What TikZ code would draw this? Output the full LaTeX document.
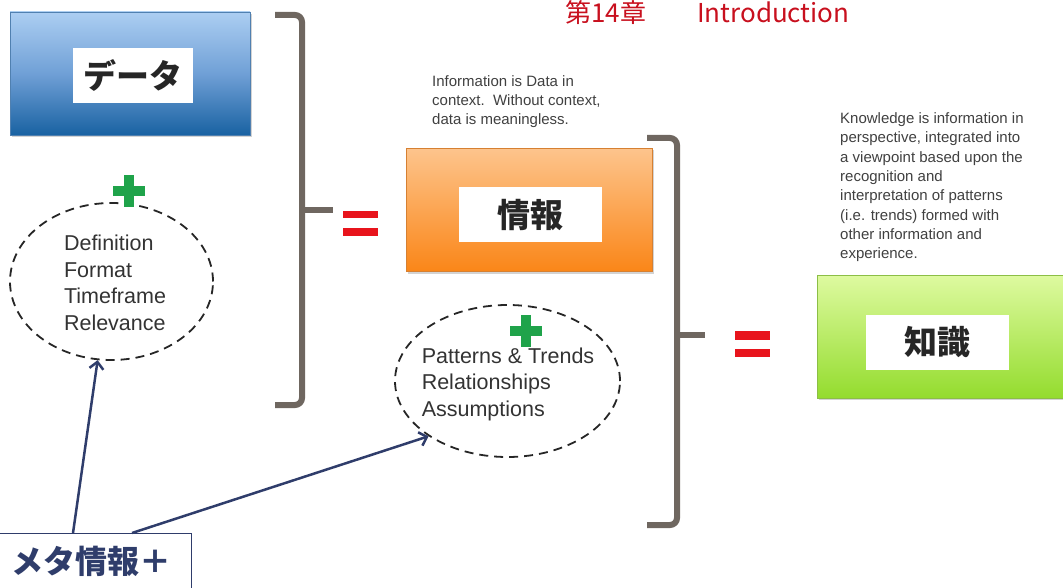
\documentclass[tikz,border=0pt]{standalone}
\usepackage{fontspec}
\setmainfont{Liberation Sans}
\newfontfamily\jpfont{Noto Sans CJK JP}
\usetikzlibrary{shapes.geometric,arrows.meta,shadows}

\definecolor{brk}{HTML}{6F6760}
\definecolor{eqred}{HTML}{E8141C}
\definecolor{plusgreen}{HTML}{1FA34A}
\definecolor{navy}{HTML}{2F3D6B}
\definecolor{titlered}{HTML}{C8101E}

\tikzset{
  box/.style={rectangle, minimum width=246pt, minimum height=123pt, inner sep=0pt,
    drop shadow={opacity=0.35, shadow xshift=1.5pt, shadow yshift=-2pt}},
  lbl/.style={fill=white, minimum width=143pt, minimum height=55pt, inner sep=0pt,
    text=black!85, font=\jpfont\bfseries\fontsize{33}{33}\selectfont},
  dashring/.style={ellipse, draw=black!85, line width=1.8pt, dash pattern=on 9pt off 6pt, inner sep=0pt},
  ringtext/.style={align=left, inner sep=0pt, text=black!80, font=\fontsize{21.5}{26.5}\selectfont},
  remark/.style={align=left, inner sep=0pt, anchor=north west, text=black!75,
    font=\fontsize{15}{19.3}\selectfont},
  bracket/.style={brk, line width=6pt, rounded corners=7pt},
  link/.style={navy, line width=2.5pt, -{Straight Barb[length=7pt,width=14pt]}}
}

\begin{document}
\begin{tikzpicture}[x=1pt,y=-1pt]
  \useasboundingbox (0,0) rectangle (1063,588);

  % title line
  \node[anchor=base west, inner sep=0pt, text=titlered, font=\jpfont\fontsize{26}{26}\selectfont] (titlech) at (565,23) {第14章};
  \node[anchor=base west, inner sep=0pt, text=titlered, font=\jpfont\fontsize{26}{26}\selectfont] (titleen) at (697,23) {Introduction};

  % the three boxes
  \node[box, minimum width=240pt, top color={rgb,255:red,172;green,206;blue,242}, bottom color={rgb,255:red,25;green,98;blue,162},
        middle color={rgb,255:red,112;green,160;blue,214}, draw={rgb,255:red,80;green,128;blue,176}, line width=0.6pt] (data) at (130,73.5) {};
  \node[lbl, minimum width=120pt] (datalbl) at (133,75.5) {データ};

  \node[box, top color={rgb,255:red,253;green,196;blue,140}, bottom color={rgb,255:red,250;green,134;blue,24},
        draw={rgb,255:red,214;green,128;blue,50}, line width=0.6pt] (info) at (529.5,210) {};
  \node[lbl] (infolbl) at (530.5,214.5) {情報};

  \node[box, top color={rgb,255:red,222;green,250;blue,160}, bottom color={rgb,255:red,148;green,220;blue,46},
        draw={rgb,255:red,140;green,190;blue,70}, line width=0.6pt] (know) at (940,336.5) {};
  \node[lbl] (knowlbl) at (937.5,342.5) {知識};

  % notes
  \node[remark] (infotext) at (432,75) {Information is Data in\\context.\ \ Without context,\\data is meaningless.};
  \node[remark] (knowtext) at (840,112.5) {Knowledge is information in\\perspective, integrated into\\a viewpoint based upon the\\recognition and\\interpretation of patterns\\(i.e. trends) formed with\\other information and\\experience.};

  % brackets
  \draw[bracket] (275,15) -- (302,15) -- (302,405) -- (275,405);
  \draw[bracket, rounded corners=0pt] (302,210) -- (333,210);
  \draw[bracket] (647,138) -- (677,138) -- (677,525) -- (647,525);
  \draw[bracket, rounded corners=0pt] (677,335) -- (705,335);

  % equal signs
  \fill[eqred] (343,211) rectangle (378,218);
  \fill[eqred] (343,228) rectangle (378,236);
  \fill[eqred] (735,331) rectangle (770,340);
  \fill[eqred] (735,349) rectangle (770,357);

  % metadata rings
  \node[dashring, minimum width=203pt, minimum height=157pt] (defring) at (111.5,281.5) {};
  \node[ringtext] (deftext) at (115,283) {Definition\\Format\\Timeframe\\Relevance};
  \node[dashring, minimum width=225pt, minimum height=152pt] (asmring) at (507.5,381) {};
  \node[ringtext] (asmtext) at (508,384) {Patterns \& Trends\\Relationships\\Assumptions};

  % plus signs
  \fill[plusgreen] (113,186) rectangle (145,196);
  \fill[plusgreen] (124,175) rectangle (134,207);
  \fill[plusgreen] (510,326) rectangle (542,336);
  \fill[plusgreen] (521,315) rectangle (531,347);

  \node[draw=navy, line width=1pt, anchor=north east, minimum width=200pt, minimum height=56pt, inner sep=0pt,
        text=navy, font=\jpfont\bfseries\fontsize{32}{32}\selectfont] (meta) at (192,533) {メタ情報＋};

  \draw[link] ([xshift=82pt]meta.north west) -- (defring.-100);
  \draw[link] ([xshift=141pt]meta.north west) -- (asmring.215);
\end{tikzpicture}
\end{document}
